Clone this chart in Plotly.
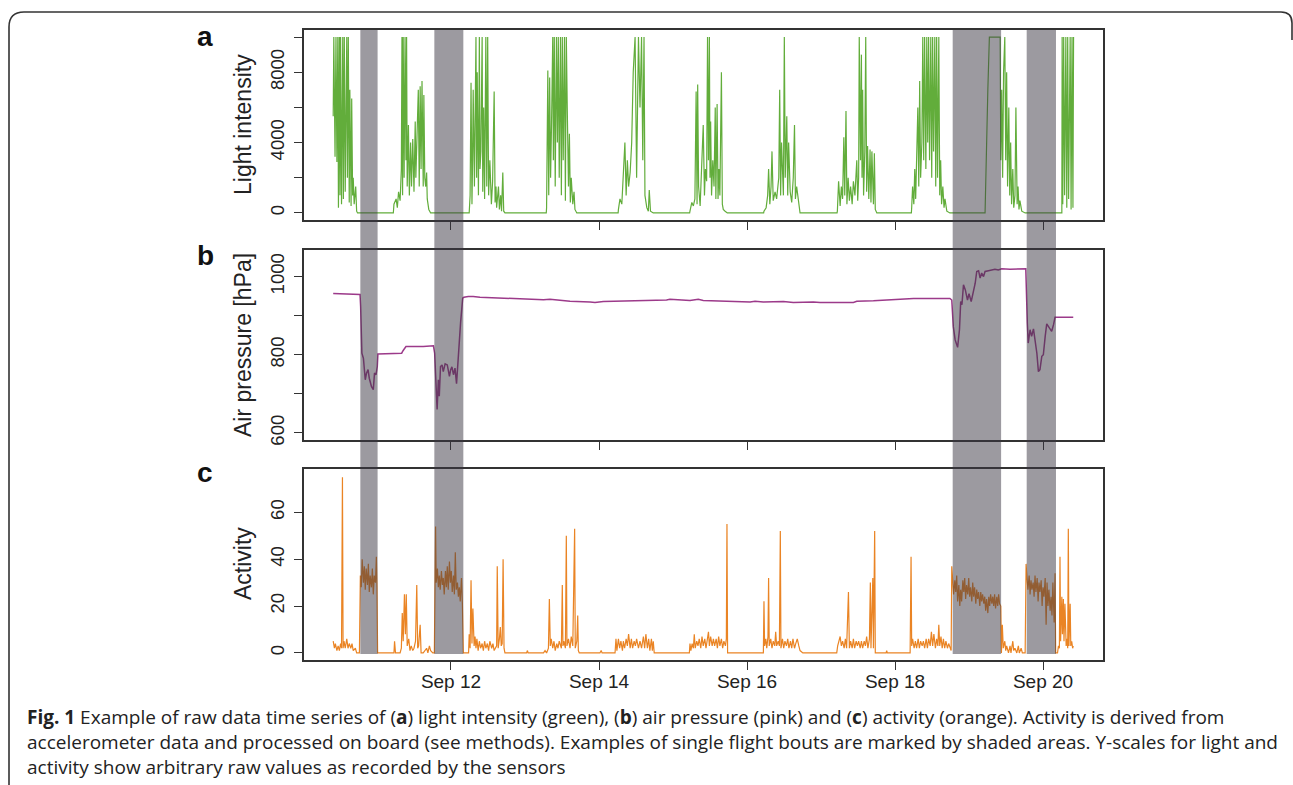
import pandas as pd
import plotly.graph_objects as go

# ---------------- data (hours since 2015-09-10 00:00, value) ----------------
START = "2015-09-10 00:00"

light_data = [
    (9.8, 5500), (10.0, 10000), (10.4, 3200), (10.7, 10000), (11.0, 2900), (11.3, 10000), (11.5, 300),
    (11.8, 10000), (12.0, 1000), (12.2, 10000), (12.5, 500), (12.9, 10000), (13.1, 800), (13.4, 10000),
    (13.7, 1200), (14.2, 10000), (14.4, 2000), (14.7, 10000), (15.0, 600), (15.2, 7000), (15.6, 400),
    (15.8, 6500), (16.1, 1000), (16.3, 2000), (16.6, 500), (17.1, 1500), (17.4, 100), (17.7, 0),
    (29.3, 0), (29.5, 500), (30.2, 800), (30.6, 300), (31.0, 1200), (31.5, 700), (31.9, 2500), (32.1, 10000),
    (32.3, 1000), (32.5, 10000), (32.8, 2000), (33.1, 10000), (33.4, 3000), (33.6, 10000), (33.8, 1500),
    (34.2, 5000), (34.5, 1000), (34.9, 4000), (35.2, 1500), (35.6, 4200), (36.0, 1200), (36.4, 5200),
    (36.6, 2000), (37.1, 4800), (37.4, 7000), (37.7, 1500), (38.0, 7200), (38.3, 2500), (38.6, 7500),
    (39.0, 1500), (39.2, 6700), (39.5, 2000), (39.8, 1500), (40.1, 2300), (40.3, 800), (40.8, 200), (41.4, 0),
    (53.9, 0), (54.0, 200), (54.2, 1000), (54.5, 7400), (54.8, 500), (55.0, 3000), (55.2, 7000), (55.6, 1500),
    (55.8, 4000), (56.1, 10000), (56.3, 2000), (56.5, 8000), (56.9, 1000), (57.2, 10000), (57.4, 2500),
    (57.7, 3500), (58.1, 10000), (58.3, 1200), (58.6, 6000), (58.9, 800), (59.3, 10000), (59.6, 1500),
    (59.9, 10000), (60.2, 1000), (60.6, 3000), (61.1, 500), (61.5, 1800), (62.0, 6900), (62.3, 600),
    (62.6, 1500), (62.8, 300), (63.4, 1500), (63.7, 200), (64.1, 1000), (64.4, 100), (64.8, 2300),
    (65.1, 100), (65.5, 0),
    (78.9, 0), (79.0, 300), (79.4, 8100), (79.7, 1000), (80.0, 7700), (80.3, 2000), (80.6, 5000), (81.0, 10000),
    (81.2, 3000), (81.5, 10000), (81.8, 1500), (82.2, 10000), (82.5, 4000), (82.8, 10000), (83.1, 2000),
    (83.5, 10000), (83.8, 1000), (84.1, 10000), (84.4, 3000), (84.8, 10000), (85.1, 700), (85.4, 10000),
    (85.7, 6000), (86.1, 1500), (86.4, 4500), (86.7, 600), (87.0, 2000), (87.5, 500), (87.9, 1200),
    (88.2, 200), (88.8, 0),
    (102.2, 0), (102.3, 200), (102.8, 800), (103.4, 500), (103.9, 2000), (104.4, 4000), (104.8, 1000),
    (105.2, 3000), (105.6, 1500), (106.1, 2300), (106.6, 4000), (107.1, 8000), (107.7, 10000), (108.2, 2000),
    (108.8, 10000), (109.3, 6000), (109.8, 10000), (110.2, 3000), (110.6, 10000), (110.9, 1000), (111.5, 300),
    (112.0, 100), (112.3, 1300), (112.7, 100), (113.6, 0),
    (125.4, 0), (125.5, 100), (126.1, 600), (126.6, 400), (127.1, 800), (127.5, 6900), (127.8, 500),
    (128.0, 7300), (128.3, 1500), (128.8, 400), (129.4, 3000), (129.8, 5000), (130.2, 1000), (130.5, 2500),
    (130.9, 1800), (131.2, 10000), (131.5, 3000), (131.8, 10000), (132.0, 2000), (132.2, 5200), (132.5, 1000),
    (132.9, 3000), (133.3, 1500), (133.7, 6000), (133.9, 800), (134.3, 6200), (134.6, 800), (134.9, 2500),
    (135.2, 1000), (135.7, 8000), (136.0, 500), (136.3, 200), (136.9, 100), (137.6, 0),
    (149.4, 0), (149.5, 100), (150.2, 300), (150.7, 1000), (151.0, 2500), (151.4, 500), (151.8, 1500),
    (152.1, 3500), (152.5, 700), (153.1, 1200), (153.6, 800), (154.3, 2000), (154.6, 7000), (154.9, 1000),
    (155.2, 4000), (155.8, 1000), (156.1, 10000), (156.4, 2000), (156.9, 5500), (157.2, 1000), (157.5, 4000),
    (158.0, 1200), (158.5, 600), (159.0, 2000), (159.4, 5000), (159.7, 800), (160.1, 1500), (160.4, 1000),
    (160.9, 300), (161.2, 0),
    (173.2, 0), (173.3, 100), (173.7, 1800), (174.2, 400), (174.6, 1500), (175.0, 800), (175.4, 4300),
    (175.7, 1000), (176.1, 5800), (176.4, 500), (176.8, 2000), (177.2, 700), (177.6, 1500), (178.1, 500),
    (178.5, 1800), (179.0, 1000), (179.6, 3000), (179.9, 700), (180.2, 2000), (180.4, 10000), (180.8, 3000),
    (181.1, 9000), (181.3, 2000), (181.5, 7000), (181.8, 1000), (182.2, 3500), (182.5, 10000), (182.8, 1200),
    (183.1, 3800), (183.5, 800), (183.9, 3600), (184.2, 600), (184.5, 3500), (185.0, 500), (185.3, 3400),
    (185.6, 200), (186.1, 0),
    (197.3, 0), (197.4, 300), (197.7, 1500), (198.1, 500), (198.4, 2500), (198.7, 800), (199.0, 3000),
    (199.4, 6000), (199.7, 1500), (200.0, 7500), (200.3, 2000), (200.7, 4000), (201.0, 10000), (201.3, 3000),
    (201.6, 10000), (202.0, 2500), (202.3, 10000), (202.6, 4000), (202.9, 10000), (203.2, 3000),
    (203.6, 10000), (203.9, 2000), (204.2, 10000), (204.5, 3500), (204.9, 10000), (205.2, 1500),
    (205.5, 10000), (205.8, 2000), (206.2, 10000), (206.5, 1000), (206.8, 3000), (207.1, 500), (207.5, 1500),
    (207.9, 300), (208.2, 800), (208.8, 100), (209.8, 0),
    (221.2, 0), (222.1, 7000), (222.6, 10000), (226.1, 10000), (226.3, 3000), (226.6, 7000), (226.9, 2000),
    (227.2, 8000), (227.6, 10000), (227.9, 3000), (228.2, 8000), (228.5, 1500), (228.9, 6000), (229.2, 1000),
    (229.5, 4000), (229.8, 500), (230.2, 2500), (230.5, 300), (230.9, 1000), (231.2, 6000), (231.6, 500),
    (231.9, 1500), (232.2, 200), (232.5, 700), (233.1, 100), (234.2, 0),
    (246.1, 0), (246.2, 10000), (246.4, 500), (246.7, 10000), (247.0, 1000), (247.4, 10000), (247.7, 300),
    (248.0, 10000), (248.3, 800), (248.8, 10000), (249.1, 200), (249.4, 10000), (249.7, 300), (249.9, 10000),
]

pressure_data = [
    (9.8, 957), (14.2, 956), (16.3, 955), (18.5, 954), (18.7, 923), (19.1, 804), (19.6, 791), (20.2, 736),
    (20.6, 753), (21.1, 762), (21.5, 740), (22.2, 719), (22.8, 711), (23.2, 753), (23.7, 749), (24.1, 770),
    (24.3, 802), (28.2, 803), (32.0, 804), (32.5, 811), (33.4, 821), (39.0, 821), (42.3, 823), (42.7, 804),
    (43.1, 702), (43.5, 660), (43.9, 736), (44.2, 694), (44.6, 770), (45.1, 774), (45.5, 757), (46.1, 777),
    (46.8, 774), (47.5, 745), (47.9, 762), (48.3, 769), (48.8, 749), (49.3, 766), (49.8, 726), (50.5, 821),
    (51.1, 881), (51.8, 945), (52.2, 947), (53.6, 949), (55.2, 949), (57.4, 947), (60.6, 946), (63.9, 944),
    (71.5, 942), (78.0, 941), (80.1, 942), (82.3, 940), (86.6, 937), (93.1, 935), (94.7, 934), (97.4, 936),
    (103.9, 937), (109.3, 939), (117.9, 940), (119.0, 942), (125.5, 939), (128.2, 942), (129.8, 939),
    (137.4, 937), (145.0, 935), (146.6, 937), (149.3, 935), (155.8, 936), (159.0, 934), (165.5, 935),
    (167.7, 934), (178.5, 934), (179.6, 937), (185.0, 938), (189.3, 940), (198.0, 944), (209.8, 944),
    (210.4, 940), (210.9, 872), (211.5, 838), (212.3, 819), (212.9, 864), (213.3, 936), (213.7, 928),
    (214.2, 979), (214.8, 966), (215.5, 940), (216.0, 956), (216.7, 936), (217.4, 961), (218.0, 983),
    (218.5, 1013), (219.1, 1015), (219.6, 996), (220.1, 1009), (220.7, 1000), (221.2, 1013), (222.3, 1015),
    (223.4, 1017), (224.4, 1019), (225.5, 1017), (226.6, 1020), (229.3, 1019), (231.5, 1020), (233.6, 1021),
    (234.4, 1020), (234.9, 881), (235.2, 830), (235.8, 864), (236.3, 847), (236.9, 866), (237.5, 838),
    (238.0, 804), (238.5, 757), (239.0, 762), (239.6, 796), (240.1, 800), (240.7, 847), (241.2, 879),
    (242.1, 868), (242.8, 860), (243.4, 877), (243.9, 896), (249.8, 896),
]

activity_data = [
    (9.8, 5), (10.2, 2), (10.5, 4), (11.0, 1), (11.4, 3), (11.8, 1), (12.2, 4), (12.5, 2), (12.8, 75),
    (13.0, 2), (13.3, 5), (13.7, 2), (14.2, 6), (14.6, 2), (15.0, 4), (15.5, 2), (15.9, 4), (16.3, 1),
    (17.0, 2), (17.4, 0), (18.3, 0), (18.6, 33), (18.9, 28), (19.2, 40), (19.6, 30), (19.9, 37), (20.2, 27),
    (20.5, 36), (20.9, 29), (21.2, 38), (21.5, 26), (21.8, 33), (22.2, 28), (22.5, 36), (22.8, 25), (23.1, 33),
    (23.5, 30), (23.8, 41), (24.0, 28), (24.2, 0), (29.5, 0), (29.7, 5), (30.0, 0), (31.5, 0), (31.9, 2),
    (32.2, 17), (32.5, 5), (32.9, 25), (33.2, 8), (33.5, 25), (33.8, 3), (34.3, 6), (34.7, 1), (35.1, 3),
    (35.6, 1), (36.0, 2), (36.5, 5), (36.9, 29), (37.2, 2), (37.5, 3), (38.0, 12), (38.3, 0), (39.0, 0),
    (40.1, 2), (40.5, 0), (41.0, 3), (41.4, 1), (42.1, 0), (42.6, 0), (42.8, 43), (43.0, 54), (43.2, 30),
    (43.6, 36), (43.9, 28), (44.2, 33), (44.5, 27), (44.9, 35), (45.2, 29), (45.5, 32), (45.8, 25), (46.2, 35),
    (46.5, 28), (46.8, 37), (47.1, 27), (47.5, 39), (47.8, 30), (48.1, 35), (48.4, 26), (48.8, 33), (49.1, 25),
    (49.4, 43), (49.7, 27), (50.1, 30), (50.4, 24), (50.7, 28), (51.0, 22), (51.4, 32), (51.7, 21), (52.0, 0),
    (53.7, 0), (53.9, 8), (54.2, 2), (54.5, 31), (54.8, 4), (55.1, 19), (55.5, 3), (55.8, 7), (56.1, 2),
    (56.4, 6), (56.8, 1), (57.2, 5), (57.6, 2), (58.1, 4), (58.5, 1), (58.9, 5), (59.3, 2), (59.8, 4),
    (60.2, 1), (60.6, 5), (61.2, 2), (61.6, 4), (62.0, 1), (62.8, 3), (63.0, 37), (63.3, 2), (63.7, 6),
    (64.0, 11), (64.3, 3), (64.6, 4), (64.9, 40), (65.2, 2), (65.5, 0), (72.5, 0), (72.8, 1), (73.0, 0),
    (78.0, 0), (78.5, 1), (79.0, 0), (79.6, 2), (79.9, 23), (80.2, 3), (80.5, 6), (81.0, 2), (81.4, 5),
    (81.8, 1), (82.3, 4), (82.7, 2), (83.1, 5), (83.8, 2), (84.1, 29), (84.3, 3), (84.6, 5), (85.1, 2),
    (85.4, 50), (85.6, 3), (86.1, 6), (86.6, 2), (87.0, 7), (87.5, 3), (88.1, 53), (88.3, 2), (88.8, 5),
    (89.1, 16), (89.3, 1), (89.6, 0), (96.3, 0), (96.7, 1), (97.0, 0), (101.2, 0), (101.5, 6), (101.8, 1),
    (102.3, 6), (102.7, 2), (103.1, 5), (103.6, 1), (103.9, 5), (104.3, 2), (104.8, 6), (105.2, 3), (105.6, 8),
    (106.1, 2), (106.5, 6), (106.9, 2), (107.4, 5), (107.8, 3), (108.2, 6), (108.8, 2), (109.3, 5), (109.8, 2),
    (110.4, 7), (110.8, 2), (111.2, 8), (111.7, 2), (112.1, 6), (112.5, 1), (113.0, 6), (113.3, 1), (113.6, 5),
    (113.9, 0), (125.3, 0), (125.5, 4), (125.8, 1), (126.2, 4), (126.6, 2), (126.9, 8), (127.2, 2), (127.7, 5),
    (128.1, 3), (128.5, 6), (129.0, 2), (129.4, 7), (129.8, 3), (130.3, 6), (130.7, 2), (131.1, 6), (131.5, 9),
    (131.8, 3), (132.2, 7), (132.7, 3), (133.1, 6), (133.5, 3), (134.0, 6), (134.4, 2), (134.8, 7), (135.2, 3),
    (135.7, 6), (136.1, 2), (136.5, 5), (137.0, 3), (137.3, 6), (137.5, 55), (137.7, 0), (149.3, 0),
    (149.5, 22), (149.7, 3), (150.1, 6), (150.4, 2), (150.8, 7), (151.0, 32), (151.2, 3), (151.7, 6),
    (152.1, 2), (152.5, 5), (153.0, 3), (153.3, 9), (153.6, 3), (154.1, 5), (154.5, 3), (154.8, 52),
    (155.0, 2), (155.5, 6), (155.9, 2), (156.3, 5), (156.8, 3), (157.2, 6), (157.6, 2), (158.1, 5), (158.5, 2),
    (158.9, 6), (159.4, 2), (159.8, 4), (160.3, 6), (160.8, 3), (161.2, 1), (162.1, 0), (173.1, 0), (173.4, 3),
    (173.8, 5), (174.2, 7), (174.6, 3), (175.0, 5), (175.5, 2), (175.9, 6), (176.3, 2), (176.9, 26), (177.2, 2),
    (177.6, 5), (178.1, 2), (178.5, 6), (178.9, 2), (179.4, 5), (179.8, 3), (180.2, 5), (180.7, 2), (181.1, 5),
    (181.5, 2), (182.0, 5), (182.4, 3), (182.8, 7), (183.2, 2), (183.7, 6), (184.0, 30), (184.2, 2),
    (184.8, 32), (185.0, 2), (185.4, 52), (185.6, 0), (189.1, 0), (189.3, 1), (189.5, 0), (196.9, 0),
    (197.2, 41), (197.4, 3), (197.7, 6), (198.2, 2), (198.6, 5), (199.0, 2), (199.5, 6), (199.9, 2), (200.3, 5),
    (200.8, 3), (201.2, 5), (201.6, 2), (202.1, 6), (202.5, 2), (202.9, 6), (203.4, 3), (203.8, 9), (204.2, 3),
    (204.6, 8), (205.1, 2), (205.5, 6), (205.9, 3), (206.2, 12), (206.5, 3), (206.9, 7), (207.3, 2), (207.7, 6),
    (208.1, 2), (208.5, 5), (209.0, 2), (209.4, 4), (209.8, 2), (210.2, 1), (210.4, 37), (210.7, 30),
    (211.0, 25), (211.4, 31), (211.7, 26), (212.0, 33), (212.3, 22), (212.7, 29), (213.0, 20), (213.3, 27),
    (213.6, 22), (214.0, 31), (214.3, 26), (214.6, 32), (214.9, 23), (215.2, 29), (215.6, 25), (215.9, 32),
    (216.2, 24), (216.5, 28), (216.9, 22), (217.2, 30), (217.5, 24), (217.8, 28), (218.2, 21), (218.5, 27),
    (218.8, 23), (219.1, 26), (219.5, 20), (219.8, 26), (220.1, 22), (220.4, 25), (220.8, 21), (221.1, 24),
    (221.4, 18), (221.7, 23), (222.1, 17), (222.4, 24), (222.7, 20), (223.0, 25), (223.4, 21), (223.7, 24),
    (224.0, 20), (224.3, 25), (224.6, 19), (225.0, 24), (225.3, 20), (225.6, 25), (225.9, 21), (226.3, 20),
    (226.5, 0), (226.8, 12), (227.1, 2), (227.6, 5), (227.9, 1), (228.2, 3), (228.8, 0), (229.3, 3), (229.6, 0),
    (230.2, 5), (230.5, 1), (230.9, 2), (231.5, 0), (232.0, 3), (232.3, 0), (232.9, 2), (233.3, 0), (234.2, 0),
    (234.5, 38), (234.8, 32), (235.1, 27), (235.5, 33), (235.8, 25), (236.1, 31), (236.4, 27), (236.8, 30),
    (237.1, 24), (237.4, 33), (237.7, 26), (238.1, 32), (238.4, 22), (238.7, 30), (239.0, 26), (239.4, 31),
    (239.7, 20), (240.0, 28), (240.3, 24), (240.7, 32), (241.0, 12), (241.3, 30), (241.6, 20), (241.9, 27),
    (242.3, 18), (242.6, 24), (242.9, 16), (243.2, 30), (243.6, 13), (243.9, 34), (244.1, 0), (244.7, 0),
    (245.0, 3), (245.3, 2), (245.5, 41), (245.7, 5), (246.1, 24), (246.3, 8), (246.6, 23), (246.8, 5),
    (247.1, 21), (247.5, 3), (247.8, 6), (248.0, 2), (248.2, 53), (248.4, 3), (248.8, 21), (249.0, 3),
    (249.3, 5), (249.6, 2), (249.8, 3),
]

# flight bouts (shaded), hours since start
bout_start_h = [18.6, 42.6, 210.7, 234.7]
bout_end_h = [24.2, 52.0, 226.4, 244.2]

tick_dates = ["2015-09-12", "2015-09-14", "2015-09-16", "2015-09-18", "2015-09-20"]
tick_labels = ["Sep 12", "Sep 14", "Sep 16", "Sep 18", "Sep 20"]

light_ticks = [0, 2000, 4000, 6000, 8000, 10000]
light_ticktext = ["0", "", "4000", "", "8000", ""]
pressure_ticks = [600, 700, 800, 900, 1000]
pressure_ticktext = ["600", "", "800", "", "1000"]
activity_ticks = [0, 20, 40, 60]
activity_ticktext = ["0", "20", "40", "60"]

caption_lines = [
    "<b>Fig. 1</b> Example of raw data time series of (<b>a</b>) light intensity (green), (<b>b</b>) air pressure (pink) and (<b>c</b>) activity (orange). Activity is derived from",
    "accelerometer data and processed on board (see methods). Examples of single flight bouts are marked by shaded areas. Y-scales for light and",
    "activity show arbitrary raw values as recorded by the sensors",
]

# ---------------- helpers ----------------
t0 = pd.Timestamp(START)


def to_time(hours):
    return [t0 + pd.to_timedelta(h, unit="h") for h in hours]


def split(data):
    hs, vs = zip(*data)
    return to_time(hs), list(vs)


W, H = 1293, 785


def px_x(x):
    return x / W


def px_y(y):
    return 1 - y / H


FONT = "Liberation Sans, Arial, Helvetica, sans-serif"
AX = "#333333"

fig = go.Figure()

lx, lv = split(light_data)
px_, pv = split(pressure_data)
ax_, av = split(activity_data)

fig.add_trace(go.Scatter(x=lx, y=lv, mode="lines", line=dict(color="#62ad3b", width=1.2),
                         xaxis="x", yaxis="y", showlegend=False, hoverinfo="skip"))
fig.add_trace(go.Scatter(x=px_, y=pv, mode="lines", line=dict(color="#9c3a8a", width=1.5),
                         xaxis="x2", yaxis="y2", showlegend=False, hoverinfo="skip"))
fig.add_trace(go.Scatter(x=ax_, y=av, mode="lines", line=dict(color="#ea8424", width=1.2),
                         xaxis="x3", yaxis="y3", showlegend=False, hoverinfo="skip"))

x_range = to_time([0.33, 259.35])
x_dom = [px_x(304), px_x(1102.7)]

common_x = dict(type="date", range=x_range, domain=x_dom, showline=True, mirror=True,
                linecolor=AX, linewidth=1.5, ticks="outside", ticklen=8, tickwidth=1.3,
                tickcolor=AX, tickvals=tick_dates, ticktext=tick_labels, showgrid=False,
                zeroline=False, automargin=False,
                tickfont=dict(family=FONT, size=19, color="#222"))
common_y = dict(showline=True, mirror=True, linecolor=AX, linewidth=1.5, ticks="outside",
                ticklen=8, tickwidth=1.3, tickcolor=AX, showgrid=False, zeroline=False,
                automargin=False, tickangle=-90, ticklabelstandoff=3,
                tickfont=dict(family=FONT, size=18.5, color="#222"))

fig.update_layout(
    width=W, height=H, margin=dict(l=0, r=0, t=0, b=0),
    paper_bgcolor="white", plot_bgcolor="white", template="none",
    xaxis=dict(common_x, anchor="y", showticklabels=False),
    xaxis2=dict(common_x, anchor="y2", showticklabels=False),
    xaxis3=dict(common_x, anchor="y3", showticklabels=True, ticklabelstandoff=-5),
    yaxis=dict(common_y, anchor="x", domain=[px_y(220), px_y(30)], range=[-400, 10400],
               tickvals=light_ticks, ticktext=light_ticktext),
    yaxis2=dict(common_y, anchor="x2", domain=[px_y(440), px_y(250)], range=[582, 1068],
                tickvals=pressure_ticks, ticktext=pressure_ticktext),
    yaxis3=dict(common_y, anchor="x3", domain=[px_y(660), px_y(469)], range=[-3.02, 78.5],
                tickvals=activity_ticks, ticktext=activity_ticktext),
)

# shaded flight bouts spanning all panels
for s, e in zip(to_time(bout_start_h), to_time(bout_end_h)):
    fig.add_shape(type="rect", xref="x3", yref="paper", x0=s, x1=e,
                  y0=px_y(654), y1=px_y(30), fillcolor="rgba(58,54,66,0.5)",
                  line=dict(width=0), layer="above")

# outer rounded frame
fx0, fy_top, r = px_x(9), px_y(12), 15
frame_path = (f"M {fx0},0 L {fx0},{px_y(12 + r)} Q {fx0},{fy_top} {px_x(9 + r)},{fy_top} "
              f"L {px_x(1281)},{fy_top} Q {px_x(1292)},{fy_top} {px_x(1292)},{px_y(23)} "
              f"L {px_x(1292)},{px_y(40)}")
fig.add_shape(type="path", xref="paper", yref="paper", path=frame_path,
              line=dict(color="#333", width=1.6))

# panel letters
for letter, ycen in zip(["a", "b", "c"], [37, 256, 472]):
    fig.add_annotation(text=f"<b>{letter}</b>", x=px_x(205), y=px_y(ycen), xref="paper",
                       yref="paper", showarrow=False, xanchor="center", yanchor="middle",
                       font=dict(family=FONT, size=28, color="#111"))

# y-axis titles
for title, ycen in zip(["Light intensity", "Air pressure [hPa]", "Activity"], [125, 345, 564]):
    fig.add_annotation(text=title, x=px_x(243), y=px_y(ycen), xref="paper", yref="paper",
                       showarrow=False, textangle=-90, xanchor="center", yanchor="middle",
                       font=dict(family=FONT, size=23, color="#222"))

# caption
for line, ycen in zip(caption_lines, [717, 742, 767]):
    fig.add_annotation(text=line, x=px_x(25), y=px_y(ycen), xref="paper", yref="paper",
                       showarrow=False, xanchor="left", yanchor="middle", align="left",
                       font=dict(family="Open Sans, sans-serif", size=19, color="#222"))

fig.write_html("out.html", config={"displayModeBar": False},
               post_script="document.body.style.margin='0';document.body.style.overflow='hidden';")
